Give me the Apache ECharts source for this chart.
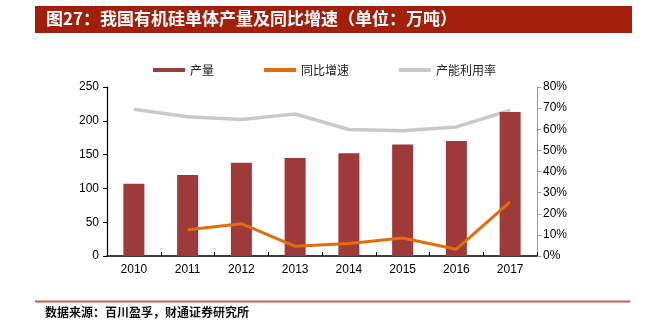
<!DOCTYPE html>
<html><head><meta charset="utf-8">
<script src="https://cdn.jsdelivr.net/npm/echarts@6/dist/echarts.min.js"></script>
<style>html,body{margin:0;padding:0;background:#fff}#c{width:650px;height:332px}</style>
</head><body><div id="c"></div>
<script>
const categories = ['2010','2011','2012','2013','2014','2015','2016','2017'];
const output = [107, 120, 138, 145, 152, 165, 170, 213];
const growth = [null, 12.4, 15.3, 4.6, 5.9, 8.5, 3.2, 25.6];
const utilization = [69.5, 65.9, 64.6, 67.2, 59.9, 59.3, 61.1, 69.0];
const leftTicks = [0, 50, 100, 150, 200, 250];
const rightTicks = ['0%','10%','20%','30%','40%','50%','60%','70%','80%'];

const chart = echarts.init(document.getElementById('c'), null, {renderer:'canvas'});
const cjk = '"Noto Sans CJK SC", sans-serif';
const lat = '"Liberation Sans", Arial, sans-serif';
chart.setOption({
  animation:false,
  graphic:[
    {type:'rect', shape:{x:35,y:6,width:597,height:27}, style:{fill:'#a21f0b'}},
    {type:'text', left:46, top:10, style:{text:'图27：我国有机硅单体产量及同比增速（单位：万吨）', fill:'#fff', font:'bold 17px '+cjk}},
    {type:'rect', shape:{x:35,y:300.5,width:595,height:2}, style:{fill:'#c0604e'}},
    {type:'text', left:45, top:306, style:{text:'数据来源：百川盈孚，财通证券研究所', fill:'#111', font:'bold 12px '+cjk}}
  ],
  legend:{
    left:148, top:59, itemWidth:32, itemHeight:4, itemGap:50,
    textStyle:{fontFamily:cjk, fontSize:12, color:'#222'},
    data:[
      {name:'产量', icon:'rect'},
      {name:'同比增速', icon:'rect', itemStyle:{color:'#e46c0a'}},
      {name:'产能利用率', icon:'rect', itemStyle:{color:'#c9c9c9'}}
    ]
  },
  grid:{left:107, right:113, top:87, bottom:76, containLabel:false},
  xAxis:{
    type:'category', data:categories,
    axisLine:{lineStyle:{color:'#000', width:1.5}},
    axisTick:{show:true, inside:true, alignWithLabel:false, length:4, lineStyle:{color:'#000'}},
    axisLabel:{color:'#000', fontFamily:lat, fontSize:12, margin:8}
  },
  yAxis:[
    {type:'value', min:0, max:250, interval:50,
     axisLine:{show:true, lineStyle:{color:'#000', width:1.2}},
     axisTick:{show:true, length:4, lineStyle:{color:'#000'}},
     splitLine:{show:false},
     axisLabel:{color:'#000', fontFamily:lat, fontSize:12, margin:8,
       formatter:v=>leftTicks.includes(v)?String(v):''}},
    {type:'value', min:0, max:80, interval:10, position:'right',
     axisLine:{show:true, lineStyle:{color:'#999', width:1}},
     axisTick:{show:true, length:4, lineStyle:{color:'#999'}},
     splitLine:{show:false},
     axisLabel:{color:'#000', fontFamily:lat, fontSize:12, margin:6,
       formatter:v=>rightTicks[Math.round(v/10)]}}
  ],
  series:[
    {name:'产量', type:'bar', data:output, barWidth:21, itemStyle:{color:'#9e3a39'}, z:2},
    {name:'同比增速', type:'line', yAxisIndex:1, data:growth, symbol:'none', connectNulls:false,
     lineStyle:{color:'#e46c0a', width:3}, itemStyle:{color:'#e46c0a'}, z:3},
    {name:'产能利用率', type:'line', yAxisIndex:1, data:utilization, symbol:'none',
     lineStyle:{color:'#c9c9c9', width:3.5}, itemStyle:{color:'#c9c9c9'}, z:1}
  ]
});
</script></body></html>
